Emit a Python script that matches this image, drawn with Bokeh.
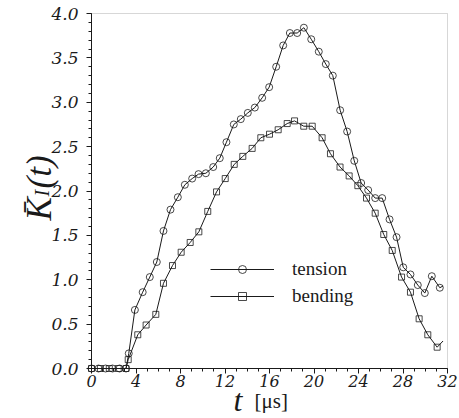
import math
from bokeh.plotting import figure
from bokeh.models import (Range1d, FixedTicker, Legend, LegendItem, Label, BoxAnnotation)
from bokeh.embed import file_html
from bokeh.resources import INLINE

# ---- data ----
t_tension = [0, 0.63, 1.26, 1.89, 2.52, 3.1, 3.35, 3.9, 4.6, 5.24, 5.87, 6.47, 7.1, 7.76,
             8.39, 9.05, 9.62, 10.28, 10.94, 11.53, 12.13, 12.79, 13.42, 14.05, 14.68,
             15.34, 15.97, 16.6, 17.23, 17.83, 18.49, 19.09, 19.75, 20.43, 21.06, 21.69,
             22.35, 22.98, 23.62, 24.24, 24.87, 25.5, 26.13, 26.79, 27.42, 28.02, 28.67,
             29.33, 29.96, 30.59, 31.31, 31.6]
k_tension = [0, 0, 0, 0, 0, 0, 0.17, 0.66, 0.86, 1.03, 1.20, 1.55, 1.79, 1.93, 2.07, 2.14,
             2.19, 2.20, 2.27, 2.37, 2.55, 2.75, 2.81, 2.88, 2.94, 3.05, 3.17, 3.40, 3.64,
             3.78, 3.78, 3.84, 3.71, 3.57, 3.43, 3.30, 2.91, 2.67, 2.34, 2.09, 2.01, 1.92,
             1.92, 1.68, 1.48, 1.14, 1.06, 0.94, 0.85, 1.04, 0.91, 0.93]

t_bending = [0, 0.8, 1.6, 2.4, 3.1, 3.3, 4.16, 4.91, 5.78, 6.47, 7.28, 8.06, 8.87, 9.65,
             10.45, 11.24, 12.02, 12.83, 13.6, 14.44, 15.22, 16.0, 16.78, 17.59, 18.25,
             19.08, 19.84, 20.73, 21.48, 22.34, 23.16, 23.94, 24.72, 25.5, 26.27, 27.03,
             27.87, 28.67, 29.45, 30.23, 31.07, 31.6]
k_bending = [0, 0, 0, 0, 0, 0.10, 0.38, 0.49, 0.61, 0.96, 1.16, 1.31, 1.42, 1.54, 1.77,
             1.99, 2.14, 2.30, 2.39, 2.48, 2.60, 2.64, 2.69, 2.76, 2.79, 2.73, 2.73, 2.60,
             2.42, 2.27, 2.17, 2.06, 1.92, 1.75, 1.51, 1.33, 1.03, 0.86, 0.56, 0.38, 0.24,
             0.31]

x_ticks = [0, 4, 8, 12, 16, 20, 24, 28, 32]
x_tick_labels = ["0", "4", "8", "12", "16", "20", "24", "28", "32"]
y_ticks = [0.0, 0.5, 1.0, 1.5, 2.0, 2.5, 3.0, 3.5, 4.0]
y_tick_labels = ["0.0", "0.5", "1.0", "1.5", "2.0", "2.5", "3.0", "3.5", "4.0"]
series_names = ["tension", "bending"]

INK = "#1a1a1a"

# ---- layout (pixels) ----
W, H = 459, 418
LEFT, RIGHT, TOP, BOTTOM = 91, 12, 13, 50          # space around the data box
x0, x1 = x_ticks[0], x_ticks[-1]
y0, y1 = y_ticks[0], y_ticks[-1]
kx = (x1 - x0) / (W - LEFT - RIGHT)
ky = (y1 - y0) / (H - TOP - BOTTOM)

p = figure(width=W, height=H, output_backend="svg", toolbar_location=None,
           x_range=Range1d(x0 - LEFT * kx, x1 + RIGHT * kx),
           y_range=Range1d(y0 - BOTTOM * ky, y1 + TOP * ky),
           min_border=0)
p.xgrid.visible = False
p.ygrid.visible = False
p.outline_line_color = None
p.background_fill_color = "white"
p.border_fill_color = "white"

# frame of the data box (top/right edges grey like the reference)
p.add_layout(BoxAnnotation(left=x0, right=x1, bottom=y0, top=y1, fill_alpha=0,
                           line_color="#7a7a7a", line_width=1, level="underlay"))

# axes, fixed at the origin of the data box
p.xaxis.fixed_location = y0
p.yaxis.fixed_location = x0
p.xaxis.bounds = (x0, x1)
p.yaxis.bounds = (y0, y1)
p.xaxis.ticker = FixedTicker(ticks=x_ticks, minor_ticks=list(range(0, 33)))
p.xaxis.major_label_overrides = {t: s for t, s in zip(x_ticks, x_tick_labels)}
p.yaxis.ticker = FixedTicker(ticks=y_ticks, minor_ticks=[i / 10 for i in range(0, 41)])
p.yaxis.major_label_overrides = {t: s for t, s in zip(y_ticks, y_tick_labels)}
for ax in (p.xaxis[0], p.yaxis[0]):
    ax.axis_line_color = INK
    ax.major_tick_line_color = INK
    ax.minor_tick_line_color = INK
    ax.major_tick_out = 5
    ax.major_tick_in = 0
    ax.minor_tick_out = 3
    ax.minor_tick_in = 0
    ax.major_label_text_font = "DejaVu Serif"
    ax.major_label_text_font_style = "italic"
    ax.major_label_text_color = INK
p.xaxis.major_label_text_font_size = "16px"
p.xaxis.major_label_standoff = 1
p.yaxis.major_label_text_font_size = "17px"
p.yaxis.major_label_standoff = 8

# series
lt = p.line(t_tension, k_tension, line_color=INK, line_width=1)
st = p.scatter(t_tension[:-1], k_tension[:-1], marker="circle", size=7,
               line_color=INK, line_width=0.8, fill_alpha=0)
lb = p.line(t_bending, k_bending, line_color=INK, line_width=1)
sb = p.scatter(t_bending[:-1], k_bending[:-1], marker="square", size=6,
               line_color=INK, line_width=0.8, fill_alpha=0)

legend = Legend(items=[LegendItem(label=series_names[0], renderers=[lt, st]),
                       LegendItem(label=series_names[1], renderers=[lb, sb])],
                location=(210, 111), glyph_width=64, glyph_height=20,
                label_height=20, spacing=5, padding=0, margin=0, label_standoff=18,
                border_line_alpha=0, background_fill_alpha=0,
                label_text_font="Liberation Serif", label_text_font_size="19px",
                label_text_color=INK)
p.add_layout(legend, "center")

# y axis title  K̄_I(t)
ital = dict(x_units="screen", y_units="screen", text_color=INK,
            text_font="Liberation Serif", text_font_style="italic",
            text_align="left", text_baseline="alphabetic")
p.add_layout(Label(x=39, y=198, text="K\u0304", angle=math.pi / 2,
                   text_font_size="35px", **ital))
p.add_layout(Label(x=41, y=222, text="I", angle=math.pi / 2,
                   text_font_size="20px", **ital))
p.add_layout(Label(x=39, y=230, text="(t)", angle=math.pi / 2,
                   text_font_size="35px", **ital))

# x axis title  t [μs]
p.add_layout(Label(x=233, y=19, text="t", text_font_size="32px", **ital))
p.add_layout(Label(x=254, y=18, text="[\u03bcs]", text_align="left",
                   text_baseline="alphabetic", text_font_size="21px",
                   x_units="screen", y_units="screen", text_color=INK,
                   text_font="Liberation Serif"))

open("out.html", "w").write(file_html(p, INLINE))
